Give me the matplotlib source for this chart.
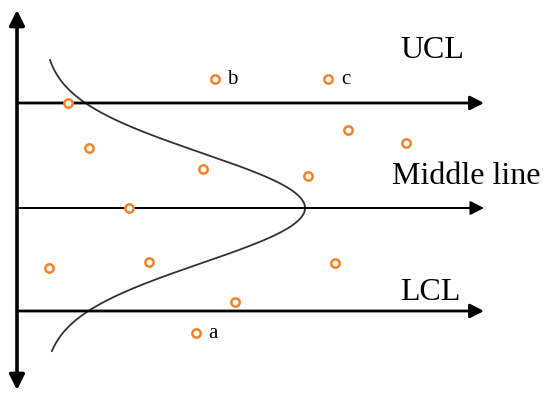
import numpy as np
import matplotlib.pyplot as plt

# control chart sketch, coordinates in image pixels (y grows downward)
limit_names = ["UCL", "Middle line", "LCL"]
limit_y = [103, 208, 311]
limit_lw = [2.0, 1.4, 2.0]
label_x = [432, 466, 430]
label_y = [51, 177, 293]

pts_x = [68, 215, 328, 348, 406, 89, 203, 308, 129, 49, 149, 335, 235, 196]
pts_y = [103, 79, 79, 130, 143, 148, 169, 176, 208, 268, 262, 263, 302, 333]

tag_names = ["b", "c", "a"]
tag_x = [232, 346, 213]
tag_y = [80, 80, 333]

# bell curve drawn sideways around the middle line
curve_base = 43
curve_peak = 305
curve_sigma = 55
curve_span = [60, 351]

fig = plt.figure(figsize=(5.5, 3.98), dpi=100)
ax = fig.add_axes([0, 0, 1, 1])
ax.set_xlim(0, 550)
ax.set_ylim(398, 0)
ax.axis("off")

# y axis with arrows at both ends
ax.annotate("", xy=(17, 10), xytext=(17, 390),
            arrowprops=dict(arrowstyle="<|-|>,head_length=0.6,head_width=0.3",
                            mutation_scale=15, lw=2.6, color="black",
                            shrinkA=0, shrinkB=0))

for y, lw in zip(limit_y, limit_lw):
    ax.annotate("", xy=(484, y), xytext=(17, y),
                arrowprops=dict(arrowstyle="-|>,head_length=0.55,head_width=0.28",
                                mutation_scale=15, lw=lw, color="black",
                                shrinkA=0, shrinkB=0))

for name, x, y in zip(limit_names, label_x, label_y):
    ax.text(x, y, name, fontsize=23, family="Liberation Serif", ha="center", va="center")

yy = np.linspace(curve_span[0], curve_span[1], 400)
mid = limit_y[1]
xx = curve_base + (curve_peak - curve_base) * np.exp(-(yy - mid) ** 2 / (2 * curve_sigma ** 2))
ax.plot(xx, yy, color="#333333", lw=1.3)

ax.plot(pts_x, pts_y, "o", ms=6, mfc="white", mec="#F5822A", mew=1.8, zorder=5)

for t, x, y in zip(tag_names, tag_x, tag_y):
    ax.text(x, y, t, fontsize=15, family="Liberation Serif", ha="center", va="center")

fig.savefig("out.png", dpi=100)
